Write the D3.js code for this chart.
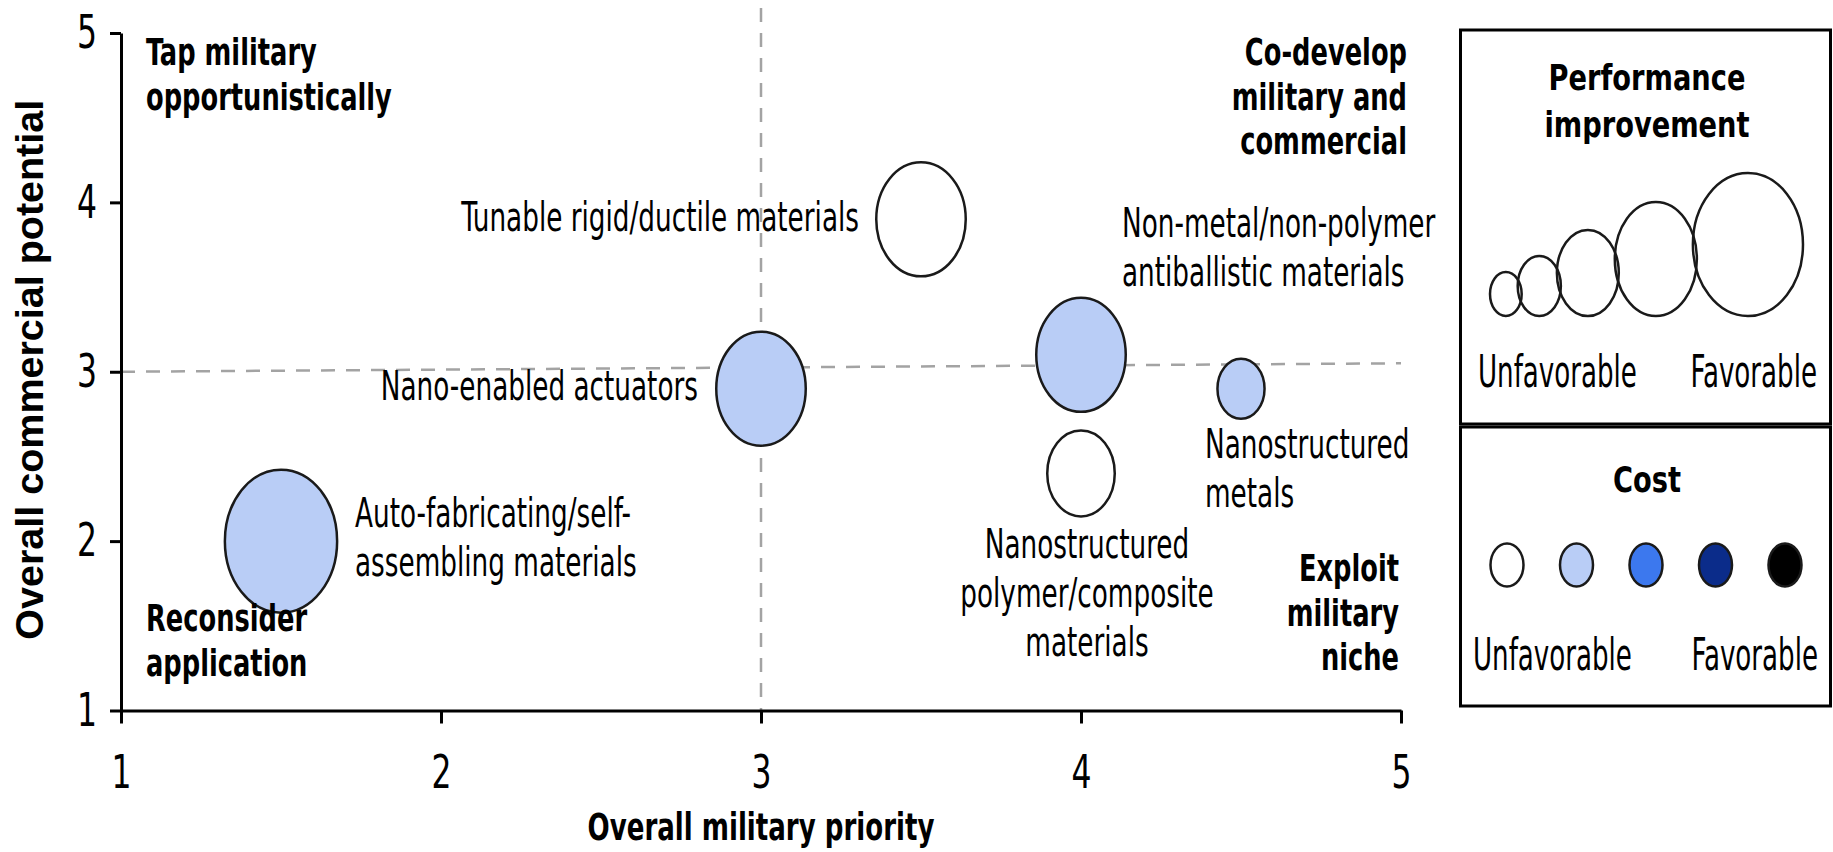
<!DOCTYPE html>
<html><head><meta charset="utf-8">
<script src="https://cdn.jsdelivr.net/npm/d3@7"></script>
<style>
html,body{margin:0;padding:0;background:#fff;}
svg{display:block;}
</style></head><body>
<script>
// ---------------- DATA ----------------
const techNames = [
  "Auto-fabricating/self-assembling materials",
  "Nano-enabled actuators",
  "Tunable rigid/ductile materials",
  "Non-metal/non-polymer antiballistic materials",
  "Nanostructured metals",
  "Nanostructured polymer/composite materials"
];
const labelLines = [
  ["Auto-fabricating/self-", "assembling materials"],
  ["Nano-enabled actuators"],
  ["Tunable rigid/ductile materials"],
  ["Non-metal/non-polymer", "antiballistic materials"],
  ["Nanostructured", "metals"],
  ["Nanostructured", "polymer/composite", "materials"]
];
const militaryPriority    = [1.5, 3.0, 3.5, 4.0, 4.5, 4.0];
const commercialPotential = [2.0, 2.9, 3.9, 3.1, 2.9, 2.4];
const performanceLevel    = [5, 4, 4, 4, 2, 3];
const costLevel           = [2, 2, 1, 2, 2, 1];
const xTicks = [1, 2, 3, 4, 5];
const yTicks = [1, 2, 3, 4, 5];
const xTitle = "Overall military priority";
const yTitle = "Overall commercial potential";
const quadrantNames = [
  ["Tap military", "opportunistically"],
  ["Co-develop", "military and", "commercial"],
  ["Reconsider", "application"],
  ["Exploit", "military", "niche"]
];
const dividerX = 3;
const dividerY = [3.0, 3.05];
const perfLegendTitle = ["Performance", "improvement"];
const costLegendTitle = ["Cost"];
const legendLevels = [1, 2, 3, 4, 5];
const costColors = ["#ffffff", "#b9cdf6", "#3c78ee", "#0b2c8a", "#000000"];
const legendEnds = ["Unfavorable", "Favorable"];

// ---------------- LAYOUT ----------------
const W = 1833, H = 852;
const NARROW = "'Liberation Sans Narrow','Arial Narrow','DejaVu Sans Condensed',sans-serif";
const WIDE = "'Liberation Sans',Arial,sans-serif";

const svg = d3.select("body").append("svg").attr("width", W).attr("height", H);
svg.append("rect").attr("width", W).attr("height", H).attr("fill", "#fff");

const x = d3.scaleLinear().domain([1, 5]).range([121, 1401]);
const y = d3.scaleLinear().domain([1, 5]).range([710.5, 33]);
const ry = d3.scaleLinear().domain(legendLevels).range([22, 30, 43, 57, 71.5]);
const rx = l => ry(l) * 0.785;
const fill = d3.scaleOrdinal().domain(legendLevels).range(costColors);

const measurer = svg.append("text").attr("visibility", "hidden");
function measure(str, size, weight, family) {
  measurer.attr("font-size", size).attr("font-weight", weight).attr("font-family", family).text(str);
  return measurer.node().getComputedTextLength();
}
const styles = {
  lab:  {size: 40, weight: 400, family: NARROW, ref: "Tunable rigid/ductile materials", target: 398},
  quad: {size: 37, weight: 700, family: NARROW, ref: "opportunistically", target: 246},
  tick: {size: 46, weight: 400, family: NARROW, ref: "2", target: 20},
  legT: {size: 35, weight: 700, family: NARROW, ref: "Performance", target: 197},
  legL: {size: 44, weight: 400, family: NARROW, ref: "Unfavorable", target: 159},
  xT:   {size: 37, weight: 700, family: NARROW, ref: xTitle, target: 347},
  yT:   {size: 39, weight: 700, family: WIDE, ref: yTitle, target: 540}
};
Object.values(styles).forEach(s => { s.k = s.target / measure(s.ref, s.size, s.weight, s.family); });
measurer.remove();

function put(g, str, px, py, st, anchor, extra) {
  return g.append("text")
    .attr("transform", `translate(${px},${py})${extra || ""} scale(${st.k},1)`)
    .attr("text-anchor", anchor)
    .attr("font-size", st.size).attr("font-weight", st.weight)
    .attr("font-family", st.family).attr("fill", "#000")
    .text(str);
}

// ---------------- DIVIDERS ----------------
const gDiv = svg.append("g").attr("stroke", "#a3a3a3").attr("stroke-width", 2.5)
  .attr("stroke-dasharray", "14,11").attr("fill", "none");
gDiv.append("line").attr("x1", x(dividerX)).attr("x2", x(dividerX))
  .attr("y1", y(5) - 25).attr("y2", y(1));
gDiv.append("line").attr("x1", x(1)).attr("x2", x(5))
  .attr("y1", y(dividerY[0])).attr("y2", y(dividerY[1]));

// ---------------- AXES ----------------
const gy = svg.append("g").attr("transform", `translate(${x(1)},0)`)
  .call(d3.axisLeft(y).tickValues(yTicks).tickFormat(d3.format("d"))
    .tickSize(11).tickSizeOuter(0).tickPadding(13));
const gx = svg.append("g").attr("transform", `translate(0,${y(1)})`)
  .call(d3.axisBottom(x).tickValues(xTicks).tickFormat(d3.format("d"))
    .tickSize(13).tickSizeOuter(0).tickPadding(31.5));
[gy, gx].forEach(g => {
  g.select(".domain").attr("stroke", "#000").attr("stroke-width", 3);
  g.selectAll(".tick line").attr("stroke", "#000").attr("stroke-width", 3);
  g.selectAll(".tick text").each(function () {
    const t = d3.select(this);
    const tx = +(t.attr("x") || 0);
    t.attr("x", null).attr("transform", `translate(${tx},0) scale(${styles.tick.k},1)`);
  }).attr("font-size", styles.tick.size).attr("font-family", NARROW).attr("fill", "#000");
});

// ---------------- BUBBLES ----------------
const data = techNames.map((n, i) => ({
  name: n, lines: labelLines[i], mx: militaryPriority[i], cy: commercialPotential[i],
  perf: performanceLevel[i], cost: costLevel[i]
}));
svg.append("g").selectAll("ellipse").data(data).join("ellipse")
  .attr("cx", d => x(d.mx)).attr("cy", d => y(d.cy))
  .attr("rx", d => rx(d.perf)).attr("ry", d => ry(d.perf))
  .attr("fill", d => fill(d.cost)).attr("stroke", "#1a1a1a").attr("stroke-width", 2.5);

// ---------------- LABELS ----------------
const labelLayout = [
  {dx: 74, dy: -14, anchor: "start"},
  {dx: -63, dy: 11, anchor: "end"},
  {dx: -62, dy: 12, anchor: "end"},
  {dx: 41, dy: -118, anchor: "start"},
  {dx: -36, dy: 69, anchor: "start"},
  {dx: 6, dy: 85, anchor: "middle"}
];
const LH = 49;
const gLab = svg.append("g");
data.forEach((d, i) => {
  const L = labelLayout[i];
  d.lines.forEach((ln, j) => put(gLab, ln, x(d.mx) + L.dx, y(d.cy) + L.dy + j * LH, styles.lab, L.anchor));
});

// quadrant labels
const QH = 44.5;
const quadLayout = [
  {px: 146, py: 65, anchor: "start"},
  {px: 1407, py: 65, anchor: "end"},
  {px: 146, py: 631, anchor: "start"},
  {px: 1399, py: 581, anchor: "end"}
];
quadrantNames.forEach((lines, i) => {
  const L = quadLayout[i];
  lines.forEach((ln, j) => put(gLab, ln, L.px, L.py + j * QH, styles.quad, L.anchor));
});

// axis titles
put(svg, xTitle, x(3), 840, styles.xT, "middle");
put(svg, yTitle, 43, y(3) - 2, styles.yT, "middle", " rotate(-90)");

// ---------------- LEGEND ----------------
const gLeg = svg.append("g");
gLeg.append("rect").attr("x", 1460.5).attr("y", 30).attr("width", 370).attr("height", 394)
  .attr("fill", "none").attr("stroke", "#000").attr("stroke-width", 3);
gLeg.append("rect").attr("x", 1460.5).attr("y", 427).attr("width", 370).attr("height", 279)
  .attr("fill", "none").attr("stroke", "#000").attr("stroke-width", 3);

perfLegendTitle.forEach((t, j) => put(gLeg, t, 1647, 90 + j * 47, styles.legT, "middle"));
const lrx = l => ry(l) * (l === 5 ? 0.77 : 0.72);
let prevRight = 1490;
const perfPos = legendLevels.map((l, i) => {
  const cx = prevRight - (i === 0 ? 0 : 4) + lrx(l);
  prevRight = cx + lrx(l);
  return {l, cx};
});
gLeg.selectAll("ellipse.perf").data(perfPos).join("ellipse").attr("class", "perf")
  .attr("cx", d => d.cx).attr("cy", d => 316 - ry(d.l))
  .attr("rx", d => lrx(d.l)).attr("ry", d => ry(d.l))
  .attr("fill", "none").attr("stroke", "#1a1a1a").attr("stroke-width", 2.5);
put(gLeg, legendEnds[0], 1478, 387, styles.legL, "start");
put(gLeg, legendEnds[1], 1817, 387, styles.legL, "end");

costLegendTitle.forEach((t, j) => put(gLeg, t, 1647, 492 + j * 47, styles.legT, "middle"));
gLeg.selectAll("ellipse.cost").data(legendLevels).join("ellipse").attr("class", "cost")
  .attr("cx", (d, i) => 1507 + i * 69.5).attr("cy", 565)
  .attr("rx", 16.5).attr("ry", 21.5)
  .attr("fill", d => fill(d)).attr("stroke", "#1a1a1a").attr("stroke-width", 2.5);
put(gLeg, legendEnds[0], 1473, 670, styles.legL, "start");
put(gLeg, legendEnds[1], 1818, 670, styles.legL, "end");
</script>
</body></html>
